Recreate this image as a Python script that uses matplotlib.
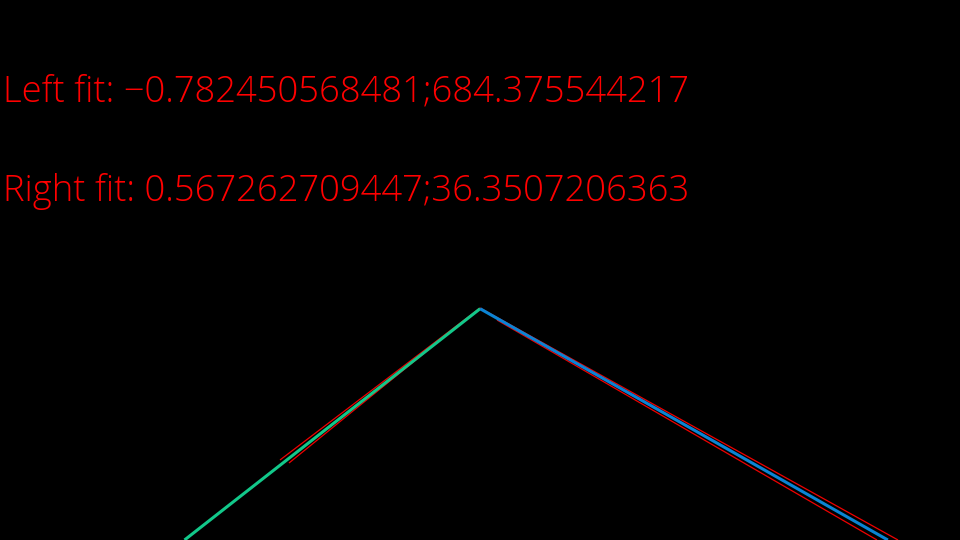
import matplotlib
matplotlib.use('Agg')
import matplotlib.pyplot as plt
import numpy as np

# lane fits: y = slope * x + intercept (image pixel coordinates)
left_fit = [-0.782450568481, 684.375544217]
right_fit = [0.567262709447, 36.3507206363]

# thin red guide lines
left_red_upper_x = [280, 480]
left_red_upper_y = [460, 308]
left_red_lower_x = [289, 465]
left_red_lower_y = [463, 320]
right_red_upper_x = [480, 898]
right_red_upper_y = [308, 540]
right_red_lower_x = [497, 877]
right_red_lower_y = [320, 540]

W, H = 960, 540

fig = plt.figure(figsize=(9.6, 5.4), dpi=100, facecolor='black')
ax = fig.add_axes([0, 0, 1, 1])
ax.set_facecolor('black')
ax.set_xlim(0, W)
ax.set_ylim(H, 0)
ax.axis('off')

# apex where the two fits meet
x_apex = (right_fit[1] - left_fit[1]) / (left_fit[0] - right_fit[0])
x_left_bottom = (H - left_fit[1]) / left_fit[0]
x_right_bottom = (H - right_fit[1]) / right_fit[0]

red = '#f00000'
for xs, ys in [(left_red_upper_x, left_red_upper_y), (left_red_lower_x, left_red_lower_y),
               (right_red_upper_x, right_red_upper_y), (right_red_lower_x, right_red_lower_y)]:
    ax.plot(xs, ys, color=red, lw=0.9, solid_capstyle='butt')

xl = np.array([x_left_bottom, x_apex])
ax.plot(xl, left_fit[0] * xl + left_fit[1], color='#12c88a', lw=2.2, solid_capstyle='butt')
xr = np.array([x_apex, x_right_bottom])
ax.plot(xr, right_fit[0] * xr + right_fit[1], color='#0a84d4', lw=2.2, solid_capstyle='butt')

font = dict(family=['Open Sans', 'DejaVu Sans'], fontweight='light', fontsize=26.2)
ax.text(3, 101, 'Left fit: \u2212{:.12f};{:.9f}'.format(-left_fit[0], left_fit[1]),
        color='#ff0000', va='baseline', ha='left', **font)
ax.text(3, 201, 'Right fit: {:.12f};{:.10f}'.format(right_fit[0], right_fit[1]),
        color='#ff0000', va='baseline', ha='left', **font)

fig.savefig('out.png', dpi=100, facecolor='black')
